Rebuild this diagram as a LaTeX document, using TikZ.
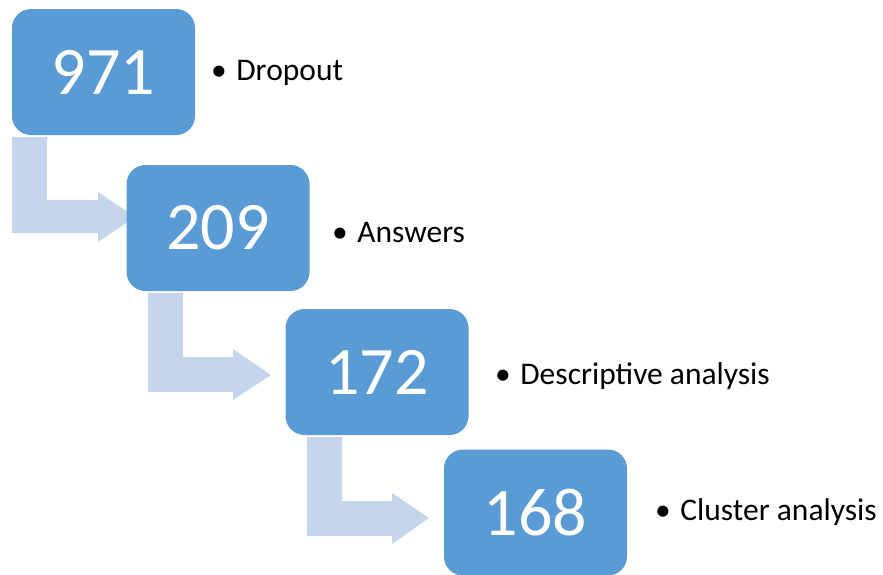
\documentclass[tikz,border=0pt]{standalone}
\usepackage{fontspec}
\setmainfont{Carlito}
\definecolor{boxblue}{HTML}{5B9BD5}
\definecolor{arrowblue}{HTML}{C5D5EB}
\begin{document}
\begin{tikzpicture}[x=1pt,y=-1pt,
  numbox/.style={draw=none,fill=boxblue,rounded corners=19pt,minimum width=183pt,minimum height=126pt,inner sep=0pt,text=white,font=\fontsize{68}{80}\selectfont},
  bentarrow/.style={fill=arrowblue,draw=none},
  lbl/.style={anchor=west,inner sep=0pt,font=\fontsize{31.5}{36}\selectfont,text=black}]
\useasboundingbox (0,0) rectangle (883,574);
% arrows (behind boxes)
\draw[bentarrow] (12,137) -- (47,137) -- (47,200) -- (98,200) -- (98,192) -- (135,217) -- (98,242) -- (98,233) -- (12,233) -- cycle;
\draw[bentarrow] (148,293) -- (183,293) -- (183,357) -- (233,357) -- (233,349) -- (271,375) -- (233,400) -- (233,392) -- (148,392) -- cycle;
\draw[bentarrow] (307,437) -- (342,437) -- (342,501) -- (392,501) -- (392,493) -- (429,518) -- (392,544) -- (392,536) -- (307,536) -- cycle;
% boxes
\node[numbox] (b1) at (103.5,72) {971};
\node[numbox] (b2) at (218,228) {209};
\node[numbox] (b3) at (377,372) {172};
\node[numbox] (b4) at (535.5,512.5) {168};
% labels
\node[lbl] (l1) at (211,73) {•\hspace{9.5pt}Dropout};
\node[lbl] (l2) at (332,233) {•\hspace{9.5pt}Answers};
\node[lbl] (l3) at (495,376) {•\hspace{9.5pt}Descriptive analysis};
\node[lbl] (l4) at (655,512) {•\hspace{9.5pt}Cluster analysis};
\end{tikzpicture}
\end{document}
